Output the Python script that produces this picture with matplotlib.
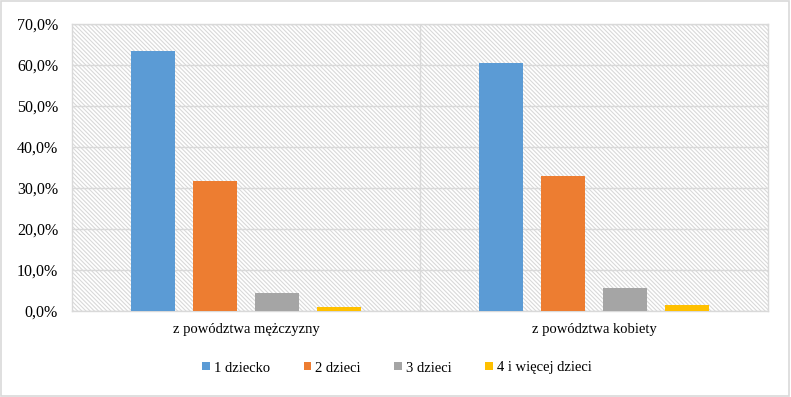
import matplotlib.pyplot as plt
import numpy as np
from matplotlib.patches import Rectangle
from matplotlib.ticker import FuncFormatter

# dane
kategorie = ['z powództwa mężczyzny', 'z powództwa kobiety']
serie = ['1 dziecko', '2 dzieci', '3 dzieci', '4 i więcej dzieci']
jedno = [63.4, 60.5]
dwoje = [31.7, 32.9]
troje = [4.4, 5.6]
czworo = [1.0, 1.5]
kolory = ['#5b9bd5', '#ed7d31', '#a5a5a5', '#ffc000']

plt.rcParams['font.family'] = ['Liberation Serif', 'DejaVu Serif']
plt.rcParams['hatch.color'] = '#d9d9d9'
plt.rcParams['hatch.linewidth'] = 0.8

fig = plt.figure(figsize=(7.91, 3.97), dpi=100)
ax = fig.add_axes([72 / 791, 1 - 311 / 397, 696 / 791, 287 / 397])

# tlo z kreskowaniem
ax.add_patch(Rectangle((0, 0), 1, 1, transform=ax.transAxes, facecolor='white',
                       hatch='\\' * 8, edgecolor='#d9d9d9', linewidth=0, zorder=0))

x = np.arange(len(kategorie))
szer = 0.126
krok = 0.178
for i, (wart, nazwa) in enumerate(zip([jedno, dwoje, troje, czworo], serie)):
    ax.bar(x + (i - 1.5) * krok, wart, width=szer, color=kolory[i], label=nazwa, zorder=3)

ax.set_xlim(-0.5, 1.5)
ax.set_ylim(0, 70)
ax.set_yticks(np.arange(0, 71, 10))
ax.yaxis.set_major_formatter(FuncFormatter(lambda v, p: f'{v:.1f}%'.replace('.', ',')))
ax.set_xticks(x)
ax.set_xticklabels(kategorie)
ax.tick_params(length=0, colors='black')
ax.tick_params(axis='x', pad=9, labelsize=10.5)
ax.tick_params(axis='y', pad=10, labelsize=11.5)

ax.grid(axis='y', color='#d9d9d9', linewidth=1.0, zorder=1)
ax.axvline(0.5, color='#d9d9d9', linewidth=1.0, zorder=1)
for s in ax.spines.values():
    s.set_color('#d9d9d9')
    s.set_linewidth(1.0)

ax.legend(loc='center', bbox_to_anchor=(397 / 791, 1 - 368 / 397), bbox_transform=fig.transFigure,
          ncol=4, frameon=False, fontsize=10.5, handlelength=0.5, handleheight=0.5,
          handletextpad=0.3, columnspacing=2.3)

# ramka wykresu
fig.patches.append(Rectangle((0.001, 0.002), 0.997, 0.995, transform=fig.transFigure,
                             fill=False, edgecolor='#d9d9d9', linewidth=1.2))

fig.savefig('out.png', dpi=100)
